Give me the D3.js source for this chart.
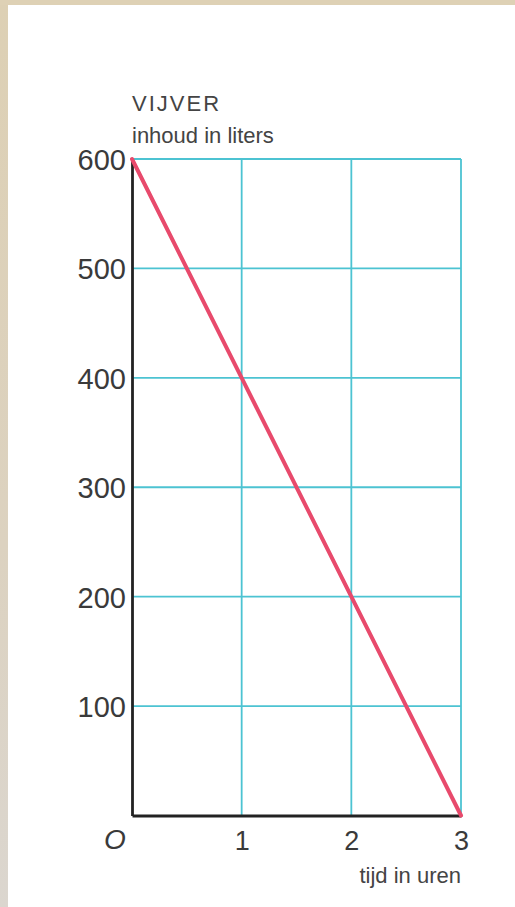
<!DOCTYPE html>
<html><head><meta charset="utf-8">
<script src="https://cdn.jsdelivr.net/npm/d3@7"></script>
<style>html,body{margin:0;padding:0;background:#fff;overflow:hidden}svg{display:block}</style>
</head><body>
<script>
const hours = [0, 1, 2, 3];
const liters = [600, 400, 200, 0];
const xTicks = [1, 2, 3];
const yTicks = [100, 200, 300, 400, 500, 600];
const title = "VIJVER";
const yLabel = "inhoud in liters";
const xLabel = "tijd in uren";

const W = 515, H = 907;
const svg = d3.select("body").append("svg").attr("width", W).attr("height", H);
const defs = svg.append("defs");
const g1 = defs.append("linearGradient").attr("id","lb").attr("x1",0).attr("y1",0).attr("x2",0).attr("y2",1);
g1.append("stop").attr("offset","0%").attr("stop-color","#ddd0b4");
g1.append("stop").attr("offset","60%").attr("stop-color","#dcd2c0");
g1.append("stop").attr("offset","100%").attr("stop-color","#dbd6cf");
svg.append("rect").attr("x",0).attr("y",0).attr("width",W).attr("height",H).attr("fill","#fff");
svg.append("rect").attr("x",0).attr("y",0).attr("width",8).attr("height",H).attr("fill","url(#lb)");
svg.append("rect").attr("x",0).attr("y",0).attr("width",W).attr("height",5).attr("fill","#ded1b5");

const x = d3.scaleLinear().domain([0, 3]).range([132, 461]);
const y = d3.scaleLinear().domain([0, 600]).range([815.5, 159]);
const font = "'Liberation Sans', Arial, Helvetica, sans-serif";
const grid = "#4cc3d2";
const txt = "#3a3a3a";

// grid
svg.append("g").selectAll("line").data(xTicks).join("line")
  .attr("x1", d => x(d)).attr("x2", d => x(d)).attr("y1", y(600)).attr("y2", y(0))
  .attr("stroke", grid).attr("stroke-width", 1.8);
svg.append("g").selectAll("line").data(yTicks).join("line")
  .attr("x1", x(0)).attr("x2", x(3)).attr("y1", d => y(d)).attr("y2", d => y(d))
  .attr("stroke", grid).attr("stroke-width", 1.8);

// axes
const yAxis = svg.append("g").attr("transform", `translate(${x(0)},0)`)
  .call(d3.axisLeft(y).tickValues(yTicks).tickSize(0).tickPadding(6));
yAxis.select(".domain").attr("stroke", "#222").attr("stroke-width", 2.8);
yAxis.selectAll("text").attr("font-family", font).attr("font-size", 29).attr("fill", txt).attr("dy", "0.36em");

const xAxis = svg.append("g").attr("transform", `translate(0,${y(0)})`)
  .call(d3.axisBottom(x).tickValues(xTicks).tickFormat(d3.format("d")).tickSize(0).tickPadding(15));
xAxis.select(".domain").attr("stroke", "#222").attr("stroke-width", 2.8);
xAxis.selectAll("text").attr("font-family", font).attr("font-size", 27).attr("fill", txt);

svg.append("text").attr("x", x(0) - 17).attr("y", 849).attr("text-anchor", "middle")
  .attr("font-family", font).attr("font-size", 28).attr("font-style", "italic").attr("fill", txt).text("O");

// line
const line = d3.line().x((d, i) => x(hours[i])).y(d => y(d));
svg.append("path").datum(liters).attr("d", line).attr("fill", "none")
  .attr("stroke", "#e84a6c").attr("stroke-width", 4).attr("stroke-linecap", "round");

// labels
svg.append("text").attr("x", 132).attr("y", 111).attr("font-family", font).attr("font-size", 22)
  .attr("letter-spacing", 2).attr("fill", "#444").text(title);
svg.append("text").attr("x", 132).attr("y", 143).attr("font-family", font).attr("font-size", 22)
  .attr("fill", "#444").text(yLabel);
svg.append("text").attr("x", 461).attr("y", 883).attr("text-anchor", "end").attr("font-family", font).attr("font-size", 22)
  .attr("fill", "#444").text(xLabel);
</script>
</body></html>
